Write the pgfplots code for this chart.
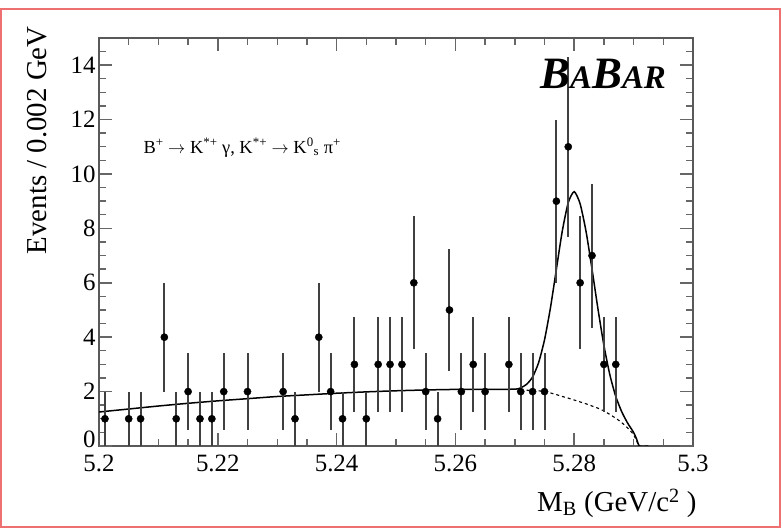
\documentclass[border=0pt]{standalone}
\usepackage{pgfplots}
\pgfplotsset{compat=1.18}
\usepackage{fontspec}
\setmainfont{Liberation Serif}
\definecolor{framered}{RGB}{238,112,112}

\begin{document}
\begin{tikzpicture}
\path[use as bounding box] (0bp,0bp) rectangle (783bp,532bp);
\draw[framered, line width=1.5bp] (1bp,5bp) rectangle (780bp,523bp);
\begin{axis}[
    at={(99bp,86bp)}, anchor=south west,
    width=594bp, height=408bp, scale only axis,
    xmin=5.2, xmax=5.3, ymin=0, ymax=15,
    axis line style={line width=1.5bp, black!65},
    xtick={5.2,5.22,5.24,5.26,5.28,5.3},
    ytick={2,4,6,8,10,12,14},
    extra y ticks={0},
    extra y tick style={yticklabel style={yshift=7bp}},
    minor xtick={5.205,5.21,5.215,5.225,5.23,5.235,5.245,5.25,5.255,5.265,5.27,5.275,5.285,5.29,5.295},
    minor ytick={0.5,1,1.5,2.5,3,3.5,4.5,5,5.5,6.5,7,7.5,8.5,9,9.5,10.5,11,11.5,12.5,13,13.5,14.5},
    tickwidth=13bp, subtickwidth=7bp,
    every major tick/.append style={draw=black!60, line width=1.6bp},
    every minor tick/.append style={draw=black!60, line width=1.4bp},
    tick align=inside,
    xtick pos=both, ytick pos=both,
    xticklabel pos=lower, yticklabel pos=left,
    scaled x ticks=false,
    xticklabel style={/pgf/number format/fixed, /pgf/number format/precision=2, yshift=-5bp},
    /pgf/number format/assume math mode=true,
    ticklabel style={font=\fontsize{25}{25}\selectfont},
    ylabel={Events / 0.002 GeV},
    ylabel style={at={(axis description cs:-0.104,1.037)}, anchor=east, font=\fontsize{29}{29}\selectfont},
    xlabel={M\textsubscript{B} (GeV/c\textsuperscript{2} )},
    xlabel style={at={(axis description cs:1.012,-0.14)}, anchor=east, font=\fontsize{29}{29}\selectfont},
]
% background + signal fit
\addplot[black, line width=1.5bp, smooth, tension=0.4] coordinates {
    (5.200,1.25) (5.205,1.36) (5.210,1.47) (5.215,1.57) (5.220,1.66)
    (5.225,1.74) (5.230,1.82) (5.235,1.88) (5.240,1.94) (5.245,1.99)
    (5.250,2.03) (5.255,2.06) (5.260,2.08) (5.265,2.08) (5.270,2.09)
    (5.271,2.14) (5.272,2.27) (5.273,2.54) (5.274,3.06) (5.275,3.90)
    (5.276,5.08) (5.277,6.50) (5.278,7.91) (5.279,8.95) (5.280,9.35)
    (5.281,8.90) (5.282,7.88) (5.283,6.50) (5.284,5.04) (5.285,3.70)
    (5.286,2.62) (5.287,1.82) (5.288,1.26) (5.289,0.84) (5.290,0.50)
    (5.2905,0.26) (5.291,0.0) (5.2925,0.0)
};
% background only
\addplot[black, line width=1.1bp, dash pattern=on 3bp off 3bp, smooth, tension=0.4] coordinates {
    (5.272,2.05) (5.274,2.03) (5.275,2.00) (5.276,1.95) (5.277,1.89)
    (5.278,1.82) (5.279,1.76) (5.280,1.69) (5.281,1.62) (5.282,1.55)
    (5.283,1.47) (5.284,1.39) (5.285,1.29) (5.286,1.16) (5.287,1.02)
    (5.288,0.86) (5.289,0.66) (5.290,0.42) (5.2905,0.18) (5.291,0.0)
};
% data
\addplot[only marks, mark=*, mark size=3.6bp, black,
    error bars/.cd, y dir=both, y explicit,
    error bar style={line width=2bp, black!75}, error mark=none]
coordinates {
    (5.201,1) +- (0,1)
    (5.205,1) +- (0,1)
    (5.207,1) +- (0,1)
    (5.211,4) +- (0,2)
    (5.213,1) +- (0,1)
    (5.215,2) +- (0,1.414)
    (5.217,1) +- (0,1)
    (5.219,1) +- (0,1)
    (5.221,2) +- (0,1.414)
    (5.225,2) +- (0,1.414)
    (5.231,2) +- (0,1.414)
    (5.233,1) +- (0,1)
    (5.237,4) +- (0,2)
    (5.239,2) +- (0,1.414)
    (5.241,1) +- (0,1)
    (5.243,3) +- (0,1.732)
    (5.245,1) +- (0,1)
    (5.247,3) +- (0,1.732)
    (5.249,3) +- (0,1.732)
    (5.251,3) +- (0,1.732)
    (5.253,6) +- (0,2.449)
    (5.255,2) +- (0,1.414)
    (5.257,1) +- (0,1)
    (5.259,5) +- (0,2.236)
    (5.261,2) +- (0,1.414)
    (5.263,3) +- (0,1.732)
    (5.265,2) +- (0,1.414)
    (5.269,3) +- (0,1.732)
    (5.271,2) +- (0,1.414)
    (5.273,2) +- (0,1.414)
    (5.275,2) +- (0,1.414)
    (5.277,9) +- (0,3)
    (5.279,11) +- (0,3.317)
    (5.281,6) +- (0,2.449)
    (5.283,7) +- (0,2.646)
    (5.285,3) +- (0,1.732)
    (5.287,3) +- (0,1.732)
};
\node[anchor=base west, font=\fontsize{18.5}{18.5}\selectfont] at (axis cs:5.2069,10.77)
    {B\textsuperscript{+} $\rightarrow$ K\textsuperscript{*+} γ, K\textsuperscript{*+} $\rightarrow$ K\textsuperscript{0}\textsubscript{s} π\textsuperscript{+}};
\node[anchor=base west, font=\bfseries\itshape] at (axis cs:5.2737,13.16)
    {\fontsize{45}{45}\selectfont B\fontsize{33}{33}\selectfont A\fontsize{45}{45}\selectfont B\fontsize{33}{33}\selectfont AR};
\end{axis}
\end{tikzpicture}
\end{document}
